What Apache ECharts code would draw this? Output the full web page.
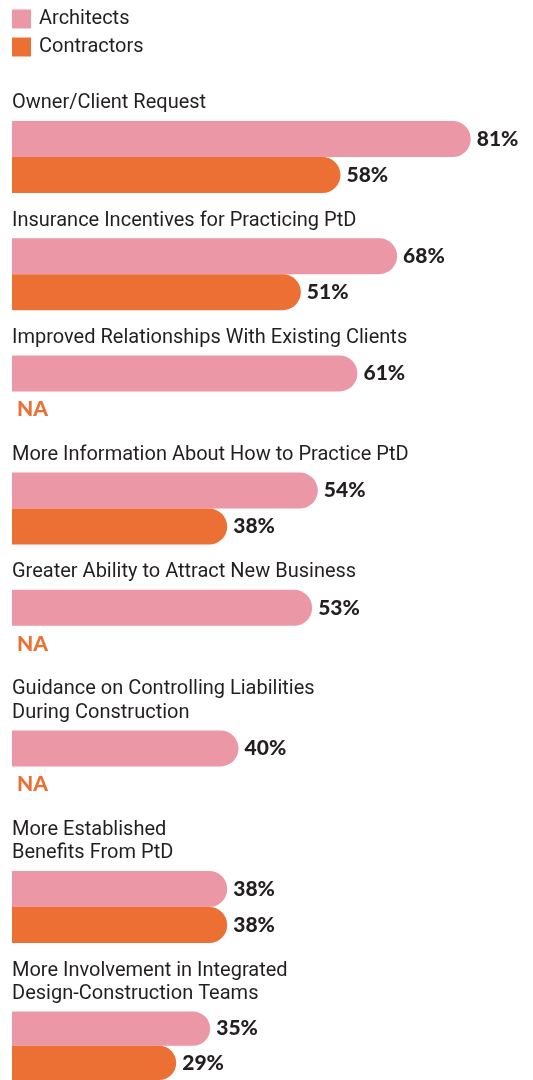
<!DOCTYPE html>
<html>
<head>
<meta charset="utf-8">
<script src="https://cdn.jsdelivr.net/npm/echarts@6/dist/echarts.min.js"></script>
<style>
  html, body { margin: 0; padding: 0; background: #fff; }
  #chart { width: 533px; height: 1080px; }
</style>
</head>
<body>
<div id="chart"></div>
<script>
  // drivers that would encourage more PtD adoption
  var categories = [
    'Owner/Client Request',
    'Insurance Incentives for Practicing PtD',
    'Improved Relationships With Existing Clients',
    'More Information About How to Practice PtD',
    'Greater Ability to Attract New Business',
    'Guidance on Controlling Liabilities\nDuring Construction',
    'More Established\nBenefits From PtD',
    'More Involvement in Integrated\nDesign-Construction Teams'
  ];
  var architects = [81, 68, 61, 54, 53, 40, 38, 35];
  var contractors = [58, 51, null, 38, null, null, 38, 29];   // null = NA

  var PINK = '#ec97a6';
  var ORANGE = '#ec7034';
  var INK = '#231f20';
  var NARROW = 'Roboto, sans-serif';
  var BOLD = 'Lato, "DejaVu Sans", sans-serif';

  var chart = echarts.init(document.getElementById('chart'));

  function valueLabel () {
    return {
      show: true, position: 'right', distance: 6, formatter: '{c}%',
      fontFamily: BOLD, fontSize: 21, fontWeight: 900, color: INK
    };
  }

  var grids = [], xAxes = [], yAxes = [], series = [], titles = [];
  var barTop = 121;
  categories.forEach(function (name, i) {
    var lines = name.split('\n').length;
    if (i > 0) barTop += 72 + 21.8 + 23.4 * lines;
    titles.push({
      text: name,
      left: 12,
      top: barTop - 6 - 23.4 * lines,
      padding: 0,
      textStyle: { fontFamily: NARROW, fontSize: 20, fontWeight: 'normal', color: INK, lineHeight: 23.4 }
    });
    // grid runs to the right edge; 92 on the axis lands at x = 533
    grids.push({ left: 12, right: 0, top: barTop, height: 72 });
    xAxes.push({ gridIndex: i, type: 'value', min: 0, max: 92, show: false });
    yAxes.push({ gridIndex: i, type: 'category', data: [name], inverse: true, show: false });
    series.push({
      name: 'Architects', type: 'bar', xAxisIndex: i, yAxisIndex: i,
      barWidth: 36, barGap: 0, barCategoryGap: 0,
      itemStyle: { color: PINK, borderRadius: [0, 18, 18, 0] },
      label: valueLabel(),
      data: [architects[i]]
    });
    var c = contractors[i];
    series.push({
      name: 'Contractors', type: 'bar', xAxisIndex: i, yAxisIndex: i,
      barWidth: 36, barGap: 0, barCategoryGap: 0,
      itemStyle: { color: ORANGE, borderRadius: [0, 18, 18, 0] },
      label: valueLabel(),
      data: [c === null
        ? { value: 0, label: { formatter: 'NA', color: ORANGE, distance: 5 } }
        : c]
    });
  });

  chart.setOption({
    animation: false,
    title: titles,
    legend: {
      orient: 'vertical',
      left: 12,
      top: 9,
      padding: 0,
      itemWidth: 19,
      itemHeight: 19,
      itemGap: 8,
      icon: 'rect',
      selectedMode: false,
      data: ['Architects', 'Contractors'],
      textStyle: { fontFamily: NARROW, fontSize: 20, color: INK, padding: [0, 0, 0, 3] }
    },
    grid: grids,
    xAxis: xAxes,
    yAxis: yAxes,
    series: series
  });
</script>
</body>
</html>
